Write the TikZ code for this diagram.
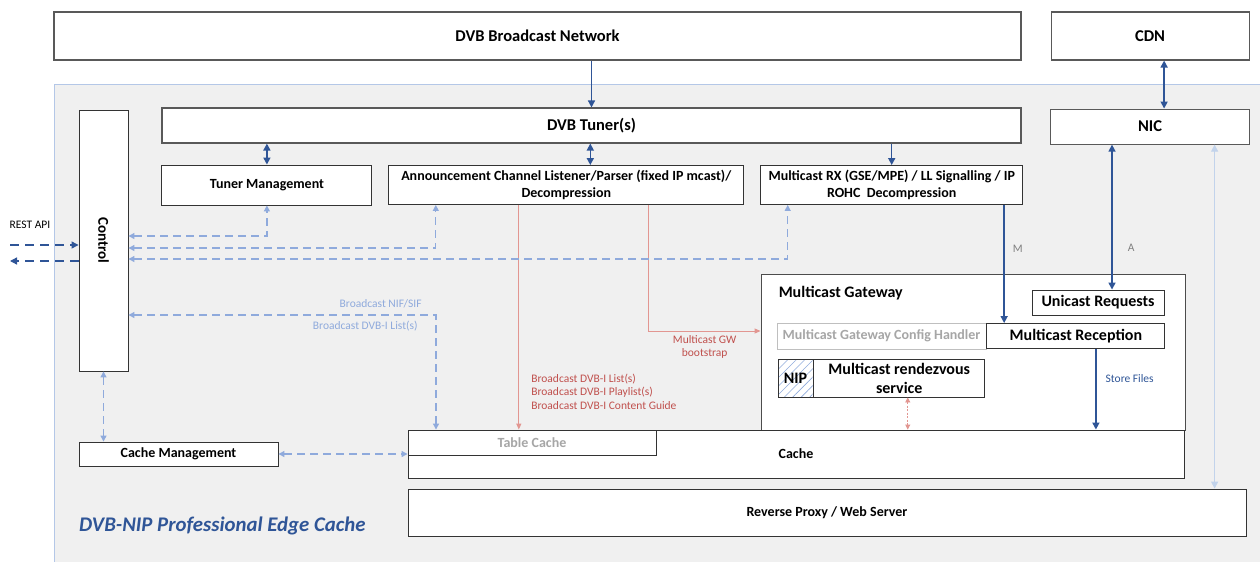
\documentclass[tikz,border=0pt]{standalone}
\usepackage{fontspec}
\setmainfont{Carlito}
\usetikzlibrary{arrows.meta,positioning,patterns.meta}

\definecolor{dkblue}{RGB}{47,85,151}
\definecolor{ltblue}{RGB}{143,170,220}
\definecolor{paleblue}{RGB}{194,211,235}
\definecolor{pinkline}{RGB}{226,150,145}
\definecolor{redtext}{RGB}{192,80,77}
\definecolor{areagray}{RGB}{240,240,240}
\definecolor{areaborder}{RGB}{180,199,231}

\newcommand{\boxtxt}{\bfseries\fontsize{14}{16.5}\selectfont}
\newcommand{\toptxt}{\bfseries\fontsize{16.5}{19}\selectfont}
\newcommand{\bigtxt}{\bfseries\fontsize{16}{19}\selectfont}
\newcommand{\lbltxt}{\fontsize{11.5}{13.5}\selectfont}

\begin{document}
\begin{tikzpicture}[x=1pt,y=1pt,
    box/.style={draw=black!80,fill=white,line width=0.9pt,font=\boxtxt,align=center,inner sep=2pt},
    topbox/.style={box,draw=black!65,line width=1.1pt,font=\toptxt},
    bigbox/.style={box,font=\bigtxt},
    greybox/.style={box,draw=black!25,text=black!35},
    lbl/.style={font=\lbltxt,inner sep=0pt},
    dvb/.style={draw=dkblue,line width=1.5pt,>={Triangle[length=7pt,width=7pt]}},
    rest/.style={draw=dkblue,line width=1.3pt,dash pattern=on 9pt off 6pt,>={Triangle[length=7pt,width=7pt]},->},
    ctl/.style={draw=ltblue,line width=1.2pt,dash pattern=on 8pt off 5pt,>={Triangle[length=6pt,width=6pt]},<->},
    bcast/.style={draw=pinkline,line width=1pt,>={Triangle[length=6pt,width=5pt]},->},
    dotlink/.style={draw=pinkline,line width=0.9pt,dash pattern=on 2pt off 1.5pt,>={Triangle[length=5pt,width=5pt]},<->},
    pale/.style={draw=paleblue,line width=1.3pt,>={Triangle[length=7pt,width=7pt]},<->}]
  \useasboundingbox (0,0) rectangle (1260,-562);

  % edge cache area
  \fill[areagray] (54,-84) rectangle (1260,-562);
  \draw[areaborder,line width=1pt] (1260,-84) -- (54,-84) -- (54,-562);

  \node[topbox,minimum width=967,minimum height=48] (net) at (537.5,-36) {DVB Broadcast Network};
  \node[topbox,minimum width=198,minimum height=48] (cdn) [right=29 of net] {CDN};
  \node[topbox,minimum width=199,minimum height=35] (nic) [below=48 of cdn] {NIC};
  \node[topbox,minimum width=859,minimum height=35] (tuner) at (591.5,-125.5) {DVB Tuner(s)};

  \node[box,minimum width=210,minimum height=40] (tmgmt) [below right=21 and 0 of tuner.south west] {Tuner Management};
  \node[box,minimum width=355,minimum height=39] (acl) [right=16 of tmgmt] {Announcement Channel Listener/Parser (fixed IP mcast)/\\Decompression};
  \node[box,minimum width=262,minimum height=39] (mrx) [right=16 of acl] {Multicast RX (GSE/MPE) / LL Signalling / IP\\ROHC\ \ Decompression};

  \node[box,font=\bfseries\fontsize{15}{18}\selectfont,minimum width=49,minimum height=261] (ctrl) at (103.5,-240.5) {\rotatebox{-90}{Control}};
  \node[box,minimum width=199,minimum height=24] (cmgmt) at (178.5,-454) {Cache Management};

  % multicast gateway
  \node[box,draw=black!70,line width=0.9pt,minimum width=424,minimum height=156] (mgw) at (973,-352) {};
  \node[font=\bigtxt,anchor=west,inner sep=0pt] (mgwlbl) at ([xshift=18,yshift=-20]mgw.north west) {Multicast Gateway};
  \node[bigbox,minimum width=132,minimum height=25] (ureq) at (1098,-302.5) {Unicast Requests};
  \node[greybox,minimum width=209,minimum height=26] (cfg) at (881.5,-336) {Multicast Gateway Config Handler};
  \node[bigbox,minimum width=178,minimum height=25] (mrec) [right=0 of cfg] {Multicast Reception};
  \node[bigbox,minimum width=35,minimum height=38,pattern={Lines[angle=45,distance=6pt,line width=0.6pt]},pattern color=ltblue] (nip) at (795.5,-378) {NIP};
  \node[bigbox,minimum width=171,minimum height=38] (rdv) [right=0 of nip] {Multicast rendezvous\\service};

  \node[box,minimum width=776,minimum height=48] (cache) at (796,-454) {Cache};
  \node[box,text=black!35,minimum width=248,minimum height=25] (tcache) [below right=0 and 0 of cache.north west] {Table Cache};
  \node[box,minimum width=838,minimum height=47] (rproxy) at (827,-512.5) {Reverse Proxy / Web Server};

  \node[font=\bfseries\itshape\fontsize{20.8}{24}\selectfont,text=dkblue,anchor=west,inner sep=0pt] (title) at (79,-526) {DVB-NIP Professional Edge Cache};

  % broadcast and unicast paths
  \path (net.south -| tuner.north) edge[dvb,->] (tuner.north);
  \path ([xshift=14]cdn.south) edge[dvb,<->] ([xshift=14]cdn.south |- nic.north);
  \path (tuner.south -| tmgmt.north) edge[dvb,<->] (tmgmt.north);
  \path ([xshift=24]acl.north) edge[dvb,<->] ([xshift=24]acl.north |- tuner.south);
  \path (tuner.south -| mrx.north) edge[dvb,->] (mrx.north);
  \path ([xshift=-19]mrx.south east) edge[dvb,->] node[lbl,pos=0.37,right=8,text=black!50] {M} ([xshift=-19]mrx.south east |- mrec.north);
  \path ([xshift=14]ureq.north) edge[dvb,<->] node[lbl,pos=0.29,right=15,text=black!50] {A} ([xshift=14]ureq.north |- nic.south);
  \path ([xshift=20]mrec.south) edge[dvb,->] node[lbl,pos=0.37,right=9,text=dkblue] {Store Files} ([xshift=20]mrec.south |- cache.north);
  \path ([xshift=64.5]nic.south) edge[pale] ([xshift=64.5]nic.south |- rproxy.north);
  \path ([xshift=8.5]rdv.south) edge[dotlink] ([xshift=8.5]rdv.south |- cache.north);

  % announcement channel outputs
  \path ([xshift=-47.5]acl.south) edge[bcast] node[lbl,pos=0.83,right=12,align=left,text=redtext] {Broadcast DVB-I List(s)\\Broadcast DVB-I Playlist(s)\\Broadcast DVB-I Content Guide} ([xshift=-47.5]acl.south |- tcache.north);
  \draw[bcast] ([xshift=82.5]acl.south) |- node[lbl,pos=0.75,below=4,align=center,text=redtext] {Multicast GW\\bootstrap} ([yshift=21]mgw.west);

  % control
  \coordinate (apiin) at (10,-245);
  \coordinate (apiout) at (10,-261);
  \node[lbl] (apilbl) at (30,-225) {REST API};
  \draw[rest] (apiin) -- (apiin -| ctrl.west);
  \draw[rest] (apiout -| ctrl.west) -- (apiout);
  \draw[ctl] ([yshift=4.5]ctrl.east) -| (tmgmt.south);
  \draw[ctl] ([yshift=-7.5]ctrl.east) -| ([xshift=-130.5]acl.south);
  \draw[ctl] ([yshift=-18.5]ctrl.east) -| ([xshift=-104]mrx.south);
  \draw[ctl] ([yshift=-74.5]ctrl.east) -| node[lbl,pos=0.41,above=6,text=ltblue] {Broadcast NIF/SIF} node[lbl,pos=0.385,below=5,text=ltblue] {Broadcast DVB-I List(s)} ([xshift=-96]tcache.north);
  \draw[ctl] (ctrl.south) -- (ctrl.south |- cmgmt.north);
  \draw[ctl] (cmgmt.east) -- (cmgmt.east -| cache.west);
\end{tikzpicture}
\end{document}
